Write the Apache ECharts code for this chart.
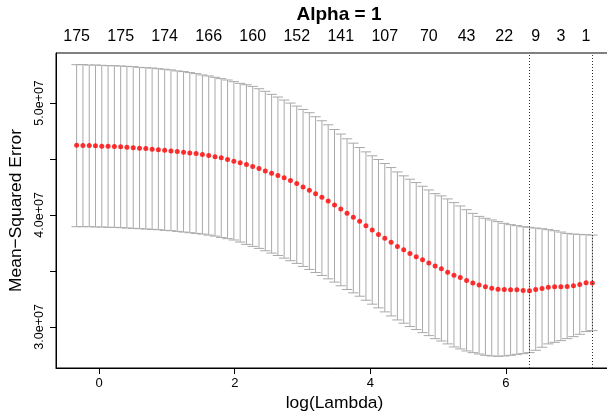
<!DOCTYPE html>
<html>
<head>
<meta charset="utf-8">
<script src="https://cdn.jsdelivr.net/npm/echarts@6/dist/echarts.min.js"></script>
<style>
  html, body { margin: 0; padding: 0; background: #fff; }
  #chart { width: 607px; height: 415px; }
</style>
</head>
<body>
<div id="chart"></div>
<script>
// Cross-validated lasso fit: log(lambda) grid, mean CV error and +/- 1 SE bounds
const logLambda = [
  -0.333, -0.240, -0.147, -0.055, 0.038, 0.131, 0.224, 0.317, 0.409, 0.502,
  0.595, 0.688, 0.781, 0.873, 0.966, 1.059, 1.152, 1.245, 1.337, 1.430,
  1.523, 1.616, 1.709, 1.801, 1.894, 1.987, 2.080, 2.173, 2.265, 2.358,
  2.451, 2.544, 2.637, 2.729, 2.822, 2.915, 3.008, 3.101, 3.193, 3.286,
  3.379, 3.472, 3.565, 3.657, 3.750, 3.843, 3.936, 4.029, 4.121, 4.214,
  4.307, 4.400, 4.493, 4.585, 4.678, 4.771, 4.864, 4.957, 5.049, 5.142,
  5.235, 5.328, 5.421, 5.513, 5.606, 5.699, 5.792, 5.885, 5.977, 6.070,
  6.163, 6.256, 6.349, 6.441, 6.534, 6.627, 6.720, 6.813, 6.905, 6.998,
  7.091, 7.184, 7.277
];

const cvMean = [
  4.623e7, 4.620e7, 4.620e7, 4.617e7, 4.614e7, 4.614e7, 4.611e7, 4.608e7, 4.605e7, 4.599e7,
  4.596e7, 4.593e7, 4.587e7, 4.581e7, 4.578e7, 4.572e7, 4.566e7, 4.560e7, 4.554e7, 4.549e7,
  4.540e7, 4.531e7, 4.519e7, 4.510e7, 4.495e7, 4.480e7, 4.465e7, 4.450e7, 4.432e7, 4.414e7,
  4.393e7, 4.372e7, 4.352e7, 4.331e7, 4.307e7, 4.280e7, 4.250e7, 4.220e7, 4.190e7, 4.158e7,
  4.125e7, 4.089e7, 4.053e7, 4.014e7, 3.979e7, 3.943e7, 3.904e7, 3.865e7, 3.826e7, 3.791e7,
  3.755e7, 3.719e7, 3.689e7, 3.656e7, 3.626e7, 3.600e7, 3.570e7, 3.543e7, 3.519e7, 3.489e7,
  3.462e7, 3.441e7, 3.415e7, 3.391e7, 3.373e7, 3.358e7, 3.346e7, 3.337e7, 3.334e7, 3.331e7,
  3.331e7, 3.325e7, 3.323e7, 3.334e7, 3.343e7, 3.355e7, 3.358e7, 3.358e7, 3.361e7, 3.367e7,
  3.379e7, 3.394e7, 3.392e7
];

const cvUpper = [
  5.342e7, 5.342e7, 5.339e7, 5.339e7, 5.336e7, 5.333e7, 5.333e7, 5.330e7, 5.327e7, 5.324e7,
  5.318e7, 5.315e7, 5.312e7, 5.306e7, 5.301e7, 5.295e7, 5.286e7, 5.280e7, 5.271e7, 5.262e7,
  5.250e7, 5.241e7, 5.229e7, 5.217e7, 5.205e7, 5.190e7, 5.175e7, 5.163e7, 5.148e7, 5.127e7,
  5.104e7, 5.077e7, 5.053e7, 5.026e7, 4.999e7, 4.972e7, 4.942e7, 4.913e7, 4.877e7, 4.841e7,
  4.805e7, 4.763e7, 4.722e7, 4.680e7, 4.641e7, 4.602e7, 4.563e7, 4.528e7, 4.495e7, 4.459e7,
  4.423e7, 4.384e7, 4.349e7, 4.319e7, 4.289e7, 4.256e7, 4.223e7, 4.190e7, 4.170e7, 4.143e7,
  4.110e7, 4.080e7, 4.047e7, 4.014e7, 3.987e7, 3.970e7, 3.955e7, 3.940e7, 3.925e7, 3.913e7,
  3.904e7, 3.895e7, 3.889e7, 3.883e7, 3.877e7, 3.868e7, 3.859e7, 3.847e7, 3.835e7, 3.829e7,
  3.826e7, 3.823e7, 3.820e7
];

const cvLower = [
  3.895e7, 3.895e7, 3.895e7, 3.892e7, 3.892e7, 3.889e7, 3.889e7, 3.886e7, 3.883e7, 3.880e7,
  3.877e7, 3.874e7, 3.871e7, 3.868e7, 3.862e7, 3.859e7, 3.853e7, 3.847e7, 3.841e7, 3.835e7,
  3.829e7, 3.820e7, 3.811e7, 3.799e7, 3.788e7, 3.776e7, 3.758e7, 3.737e7, 3.719e7, 3.701e7,
  3.680e7, 3.659e7, 3.638e7, 3.614e7, 3.591e7, 3.567e7, 3.540e7, 3.513e7, 3.486e7, 3.459e7,
  3.429e7, 3.400e7, 3.367e7, 3.334e7, 3.304e7, 3.274e7, 3.238e7, 3.203e7, 3.170e7, 3.134e7,
  3.098e7, 3.062e7, 3.033e7, 3.003e7, 2.976e7, 2.949e7, 2.922e7, 2.895e7, 2.874e7, 2.848e7,
  2.821e7, 2.803e7, 2.785e7, 2.770e7, 2.758e7, 2.746e7, 2.740e7, 2.737e7, 2.740e7, 2.746e7,
  2.755e7, 2.761e7, 2.770e7, 2.791e7, 2.818e7, 2.848e7, 2.862e7, 2.877e7, 2.895e7, 2.913e7,
  2.934e7, 2.958e7, 2.967e7
];

// Number of non-zero coefficients, printed above selected lambdas
const nzLambdaIndex = [0, 7, 14, 21, 28, 35, 42, 49, 56, 62, 68, 73, 77, 81];
const nzCount = [175, 175, 174, 166, 160, 152, 141, 107, 70, 43, 22, 9, 3, 1];

// Axis ticks
const xTickValues = [0, 2, 4, 6];
const yTickValues = [3.0e7, 3.5e7, 4.0e7, 4.5e7, 5.0e7];
const yLabelValues = [3.0e7, 4.0e7, 5.0e7];

const titleText = 'Alpha = 1';
const xName = 'log(Lambda)';
const yName = 'Mean\u2212Squared Error';

// ---- derived quantities -------------------------------------------------
const xMinData = Math.min(...logLambda);
const xMaxData = Math.max(...logLambda);
const xPad = (xMaxData - xMinData) * 0.04;
const yMinData = Math.min(...cvLower);
const yMaxData = Math.max(...cvUpper);
const yPad = (yMaxData - yMinData) * 0.04;
const capHalf = (xMaxData - xMinData) * 0.01;

let minIdx = 0;
cvMean.forEach((v, i) => { if (v < cvMean[minIdx]) minIdx = i; });
const threshold = cvUpper[minIdx];
let seIdx = minIdx;
cvMean.forEach((v, i) => { if (v <= threshold && logLambda[i] > logLambda[seIdx]) seIdx = i; });

const nzPositions = nzLambdaIndex.map(i => logLambda[i]);
const nzByPos = new Map(nzPositions.map((p, k) => [p, String(nzCount[k])]));

const FONT = '"Liberation Sans", Arial, Helvetica, sans-serif';

function sciLabel(v) {
  // 5e7 -> "5.0e+07"
  return v.toExponential(1).replace(/e([+-])(\d)$/, 'e$10$2');
}

const chart = echarts.init(document.getElementById('chart'), null, { renderer: 'canvas' });

chart.setOption({
  animation: false,
  backgroundColor: '#ffffff',
  textStyle: { fontFamily: FONT },
  title: {
    text: titleText,
    left: 334,
    textAlign: 'center',
    top: 0,
    textStyle: { fontFamily: FONT, fontSize: 19, fontWeight: 'bold', color: '#000' }
  },
  grid: {
    left: 56, right: -6, top: 53, bottom: 47,
    show: true, borderColor: '#000', borderWidth: 1,
    outerBoundsMode: 'none'
  },
  xAxis: [
    {
      type: 'value',
      min: xMinData - xPad,
      max: xMaxData + xPad,
      position: 'bottom',
      axisLine: { show: true, onZero: false, lineStyle: { color: '#000', width: 1 } },
      axisTick: { show: true, length: 6, customValues: xTickValues, lineStyle: { color: '#000' } },
      axisLabel: {
        customValues: xTickValues, color: '#000', fontSize: 13, margin: 9, fontFamily: FONT
      },
      splitLine: { show: false },
      name: xName,
      nameLocation: 'middle',
      nameGap: 27,
      nameTextStyle: { fontSize: 17.4, color: '#000', fontFamily: FONT }
    },
    {
      type: 'value',
      min: xMinData - xPad,
      max: xMaxData + xPad,
      position: 'top',
      axisLine: { show: false },
      axisTick: { show: false },
      splitLine: { show: false },
      axisLabel: {
        customValues: nzPositions,
        formatter: v => nzByPos.get(v) || '',
        color: '#000', fontSize: 16, margin: 8, fontFamily: FONT,
        hideOverlap: false
      }
    }
  ],
  yAxis: {
    type: 'value',
    min: yMinData - yPad,
    max: yMaxData + yPad,
    axisLine: { show: true, onZero: false, lineStyle: { color: '#000', width: 1 } },
    axisTick: { show: true, length: 6, customValues: yTickValues, lineStyle: { color: '#000' } },
    axisLabel: {
      customValues: yLabelValues,
      formatter: sciLabel,
      rotate: 90,
      color: '#000', fontSize: 12.5, margin: 10, fontFamily: FONT
    },
    splitLine: { show: false },
    name: yName,
    nameLocation: 'middle',
    nameGap: 28,
    nameTextStyle: { fontSize: 17.4, color: '#000', fontFamily: FONT }
  },
  series: [
    {
      type: 'custom',
      name: 'errorBars',
      xAxisIndex: 0,
      data: logLambda.map((x, i) => [x, cvUpper[i], cvLower[i]]),
      encode: { x: 0, y: [1, 2] },
      renderItem: function (params, api) {
        const x = api.value(0);
        const top = api.coord([x, api.value(1)]);
        const bot = api.coord([x, api.value(2)]);
        const half = api.size([capHalf, 0])[0];
        const style = { stroke: '#A9A9A9', lineWidth: 1, fill: null };
        return {
          type: 'group',
          children: [
            { type: 'line', shape: { x1: top[0], y1: top[1], x2: bot[0], y2: bot[1] }, style: style },
            { type: 'line', shape: { x1: top[0] - half, y1: top[1], x2: top[0] + half, y2: top[1] }, style: style },
            { type: 'line', shape: { x1: bot[0] - half, y1: bot[1], x2: bot[0] + half, y2: bot[1] }, style: style }
          ]
        };
      },
      silent: true,
      z: 2
    },
    {
      type: 'scatter',
      name: 'cvm',
      xAxisIndex: 0,
      data: logLambda.map((x, i) => [x, cvMean[i]]),
      symbol: 'circle',
      symbolSize: 5,
      itemStyle: { color: '#ff0000' },
      silent: true,
      z: 4,
      markLine: {
        silent: true,
        symbol: ['none', 'none'],
        label: { show: false },
        lineStyle: { type: [1, 2], color: '#333', width: 1 },
        data: [{ xAxis: logLambda[minIdx] }, { xAxis: logLambda[seIdx] }]
      }
    }
  ]
});
</script>
</body>
</html>
